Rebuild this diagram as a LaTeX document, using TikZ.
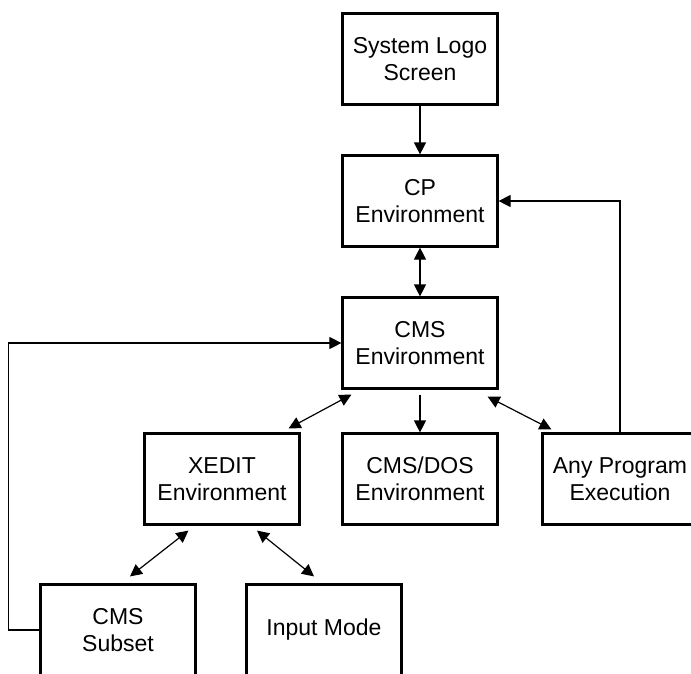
\documentclass[tikz,border=0pt]{standalone}
\usepackage{fontspec}
\setmainfont{Liberation Sans}
\usetikzlibrary{arrows.meta}
\tikzset{envbox/.style={rectangle,draw,line width=2.2pt,minimum width=155pt,minimum height=91pt,align=center,font=\fontsize{23}{27}\selectfont},
link/.style={line width=1.2pt,-{Triangle[length=12pt,width=12pt]}},
duplink/.style={line width=1.2pt,{Triangle[length=12pt,width=12pt]}-{Triangle[length=12pt,width=12pt]}}}

\begin{document}
\begin{tikzpicture}[x=1pt,y=-1pt]
    \clip (0,0) rectangle (691,673);
    \node [envbox] (logo) at (420,59) {System Logo\\Screen};
    \node [envbox, below of = logo, node distance = 142pt] (cp) {CP\\Environment};
    \node [envbox, below of = cp, node distance = 142pt] (cms) {CMS\\Environment};
    \node [envbox, below of = cms, node distance = 136pt] (cmsdos) {CMS/DOS\\Environment};
    \node [envbox, left of = cmsdos, node distance = 198pt] (xedit) {XEDIT\\Environment};
    \node [envbox, right of = cmsdos, node distance = 200pt] (anyprog) {Any Program\\Execution};
    \node [envbox, below of = xedit, node distance = 151pt, xshift = -104pt] (cmssubset) {CMS\\Subset};
    \node [envbox, below of = xedit, node distance = 151pt, xshift = 102pt] (inputmode) {Input Mode};

    % straight down the middle
    \draw [link] (logo) -- (cp);
    \draw [duplink] (cp) -- (cms);
    \draw [link, shorten <= 5pt] (cms) -- (cmsdos);

    % fan out from CMS and XEDIT
    \draw [duplink] ([shift={(10,5)}]cms.south west) -- ([shift={(-12,-4)}]xedit.north east);
    \draw [duplink] ([shift={(-11,7)}]cms.south east) -- ([shift={(10,-3)}]anyprog.north west);
    \draw [duplink] ([shift={(45,5)}]xedit.south west) -- ([shift={(12,-7)}]cmssubset.north);
    \draw [duplink] ([shift={(35,5)}]xedit.south) -- ([shift={(-10,-7)}]inputmode.north);

    % return paths
    \draw [link, line width=1.1pt] (cmssubset.west) -- ++(-31,0) |- (cms.west);
    \draw [link, line width=1.1pt] (anyprog.north) |- (cp.east);
\end{tikzpicture}
\end{document}
